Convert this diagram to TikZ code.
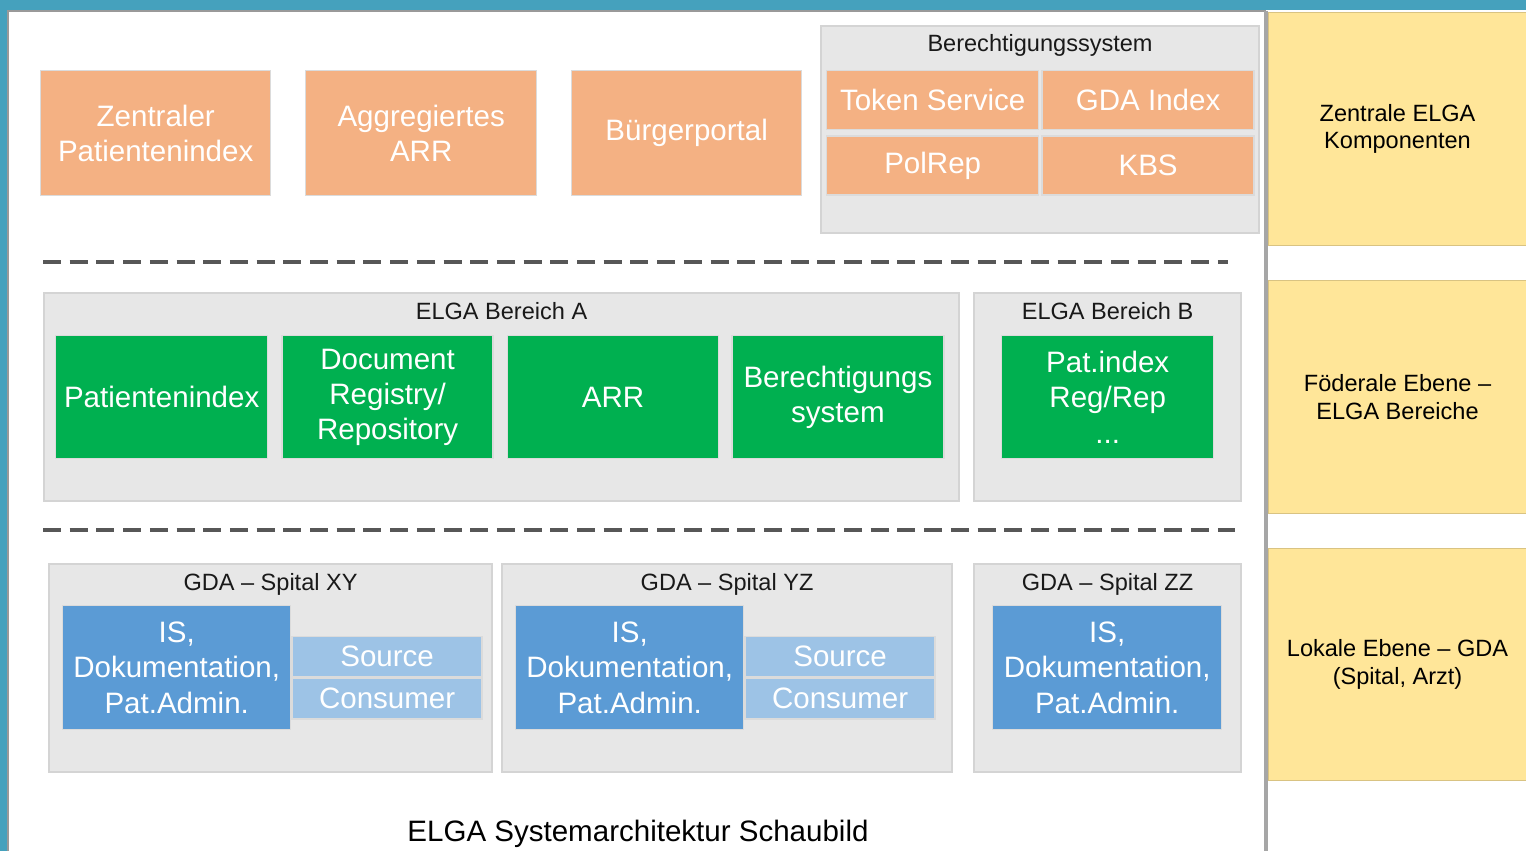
\documentclass[tikz,border=0pt]{standalone}
\usepackage{fontspec}
\setmainfont{Liberation Sans}
\usepackage{tikz}
\usetikzlibrary{positioning,calc}
\definecolor{lagoon}  {HTML}{45A1BD}
\definecolor{apricot} {HTML}{F4B183}
\definecolor{leaf}    {HTML}{00B050}
\definecolor{sky}     {HTML}{5B9BD5}
\definecolor{paleblue}{HTML}{9DC3E6}
\definecolor{panel}   {HTML}{E7E7E7}
\definecolor{straw}   {HTML}{FFE699}
\definecolor{softink} {HTML}{575757}
\tikzset{
  % --- sizes and fonts
  wh/.style 2 args = {minimum width=#1mm, minimum height=#2mm},
  boxfont/.style   = {font=\fontsize{8.4}{10}\selectfont},
  smallfont/.style = {font=\fontsize{6.7}{7.9}\selectfont},
  % --- nodes
  blk/.style   = {anchor=north west, inner sep=0pt, align=center, text=white,
                  draw=black!14, line width=0.4pt, boxfont},
  orng/.style  = {blk, fill=apricot},
  grn/.style   = {blk, fill=leaf},
  blu/.style   = {blk, fill=sky},
  lblu/.style  = {blk, fill=paleblue},
  area/.style  = {anchor=north west, inner sep=0pt, fill=panel, draw=black!17,
                  line width=0.6pt},
  level/.style = {anchor=north west, inner sep=0pt, fill=straw, draw=straw!85!black,
                  line width=0.3pt, align=center, text=black, smallfont},
  ttl/.style   = {anchor=base, inner sep=0pt, text=black!90, smallfont},
  % --- lines
  sep/.style   = {draw=softink, line width=1.1pt, dash pattern=on 1.8mm off 0.87mm},
}
\begin{document}
\begin{tikzpicture}[x=0.1mm,y=-0.1mm]
  \useasboundingbox (0,0) rectangle (1526,851);
  \fill[lagoon] (0,0) rectangle (1526,851);
  \fill[white]  (8,10) rectangle (1526,851);
  \draw[black!40,line width=0.5pt] (8,851) -- (8,11) -- (1266,11);
  \draw[black!35,line width=1.1pt] (1266,11) -- (1266,851);

  % levels on the right
  \node[level, wh={25.8}{23.3}] (lvz) at (1268,12)  {Zentrale ELGA\\Komponenten};
  \node[level, wh={25.8}{23.3}] (lvf) at (1268,280) {Föderale Ebene --\\ELGA Bereiche};
  \node[level, wh={25.8}{23.2}] (lvl) at (1268,548) {Lokale Ebene -- GDA\\(Spital, Arzt)};

  % central components
  \node[orng, wh={23}{12.5}]   (zpi)   at (40,70)  {Zentraler\\Patientenindex};
  \node[orng, wh={23.1}{12.5}] (aarr)  at (305,70) {Aggregiertes\\ARR};
  \node[orng, wh={23}{12.5}]   (bport) at (571,70) {Bürgerportal};

  \node[area, wh={43.8}{20.7}] (berech) at (820,25) {};
  \node[ttl] (berecht) at ($(berech.north)+(0,27)$) {Berechtigungssystem};
  \node[orng, wh={21.2}{5.9}] (tok) at (826,70) {Token Service};
  \node[orng, wh={21.2}{5.9}, right=0.2mm of tok] (gdai) {GDA Index};
  \node[orng, wh={21.2}{5.9}, below=0.5mm of tok] (polrep) {PolRep};
  \node[orng, wh={21.2}{5.9}, right=0.2mm of polrep] (kbs) {KBS};

  \coordinate (s1a) at (43,262);
  \coordinate (s1b) at (1228,262);
  \draw[sep] (s1a) -- (s1b);

  % federal level
  \node[area, wh={91.5}{20.8}] (bera) at (43,292) {};
  \node[ttl] (berat) at ($(bera.north)+(0,27)$) {ELGA Bereich A};
  \node[grn, wh={21.2}{12.3}] (pidx) at (55,335) {Patientenindex};
  \node[grn, wh={21.1}{12.3}, right=1.3mm of pidx]   (docreg) {Document\\Registry/\\Repository};
  \node[grn, wh={21.1}{12.3}, right=1.3mm of docreg] (arr)    {ARR};
  \node[grn, wh={21.2}{12.3}, right=1.2mm of arr]    (bsys)   {Berechtigungs\\system};

  \node[area, wh={26.7}{20.8}] (berb) at (973,292) {};
  \node[ttl] (berbt) at ($(berb.north)+(0,27)$) {ELGA Bereich B};
  \node[grn, wh={21.2}{12.3}] (pidxb) at (1001,335) {Pat.index\\Reg/Rep\\...};

  \coordinate (s2a) at (43,530);
  \coordinate (s2b) at (1235,530);
  \draw[sep] (s2a) -- (s2b);

  % local level
  \node[area, wh={44.3}{20.8}] (spxy) at (48,563)  {};
  \node[area, wh={45}{20.8}]   (spyz) at (501,563) {};
  \node[area, wh={26.7}{20.8}] (spzz) at (973,563) {};
  \foreach \s/\nm in {xy/XY, yz/YZ, zz/ZZ}
    \node[ttl] (t\s) at ($(sp\s.north)+(0,27)$) {GDA -- Spital \nm};

  \node[blu, wh={22.8}{12.4}] (isxy) at (62,605)  {IS,\\Dokumentation,\\Pat.Admin.};
  \node[blu, wh={22.8}{12.4}] (isyz) at (515,605) {IS,\\Dokumentation,\\Pat.Admin.};
  \node[blu, wh={22.9}{12.4}] (iszz) at (992,605) {IS,\\Dokumentation,\\Pat.Admin.};
  \foreach \s in {xy, yz} {
    \node[lblu, wh={19}{4}, anchor=north west] (src\s) at ($(is\s.north east)+(0,31)$) {Source};
    \node[lblu, wh={19}{4.1}, below=0mm of src\s] (con\s) {Consumer};
  }

  \node[anchor=base, inner sep=0pt, boxfont] (cap) at (638,841) {ELGA Systemarchitektur Schaubild};
\end{tikzpicture}
\end{document}
